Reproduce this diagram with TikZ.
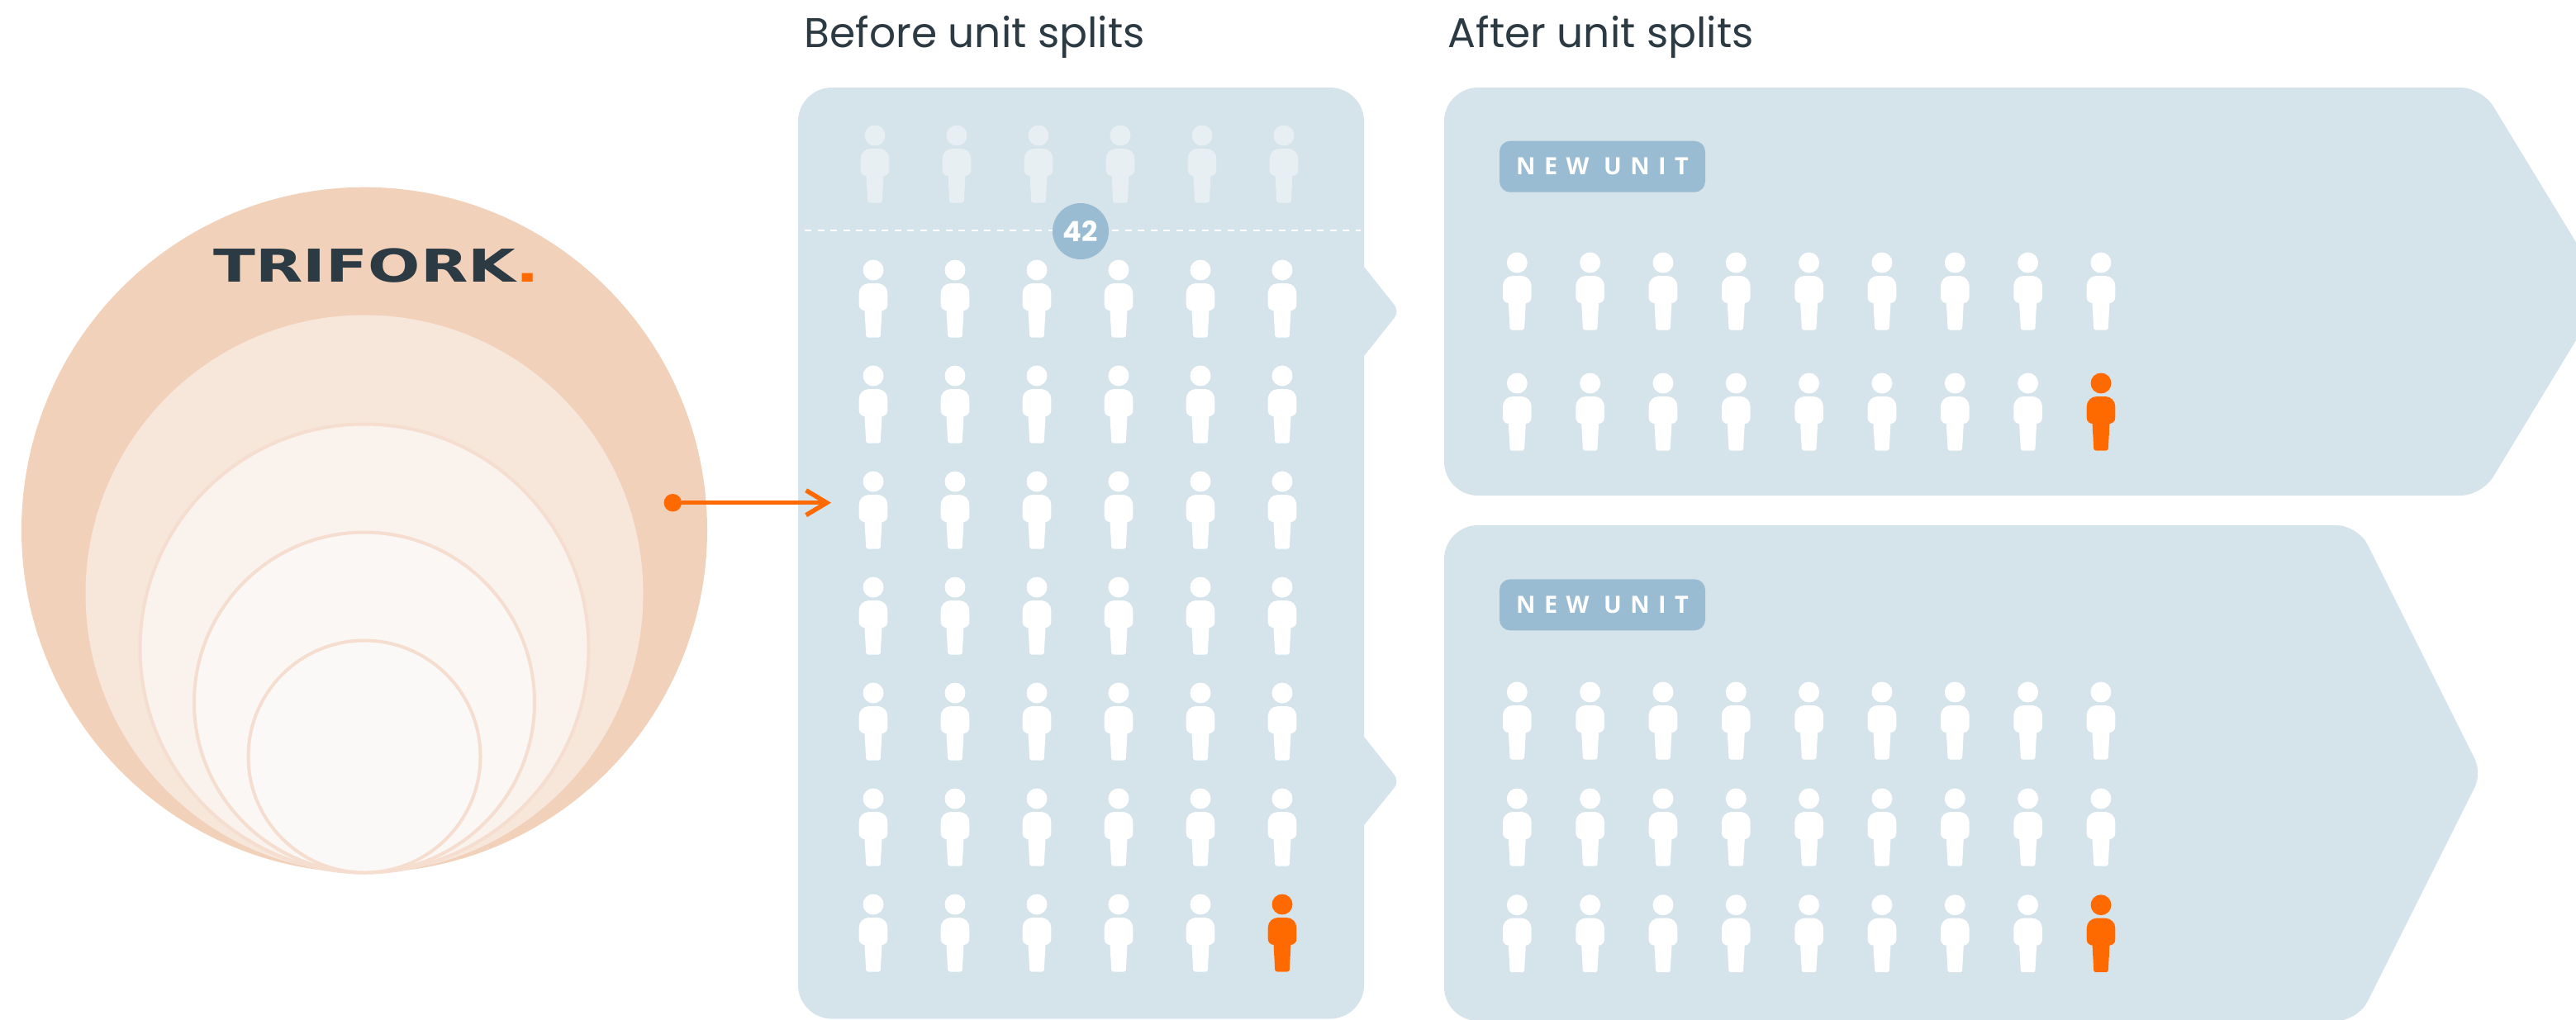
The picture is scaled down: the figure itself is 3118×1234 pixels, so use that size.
\documentclass[tikz,border=0pt]{standalone}
\usepackage{fontspec}
\setmainfont{Poppins}
\newfontfamily\tagfont[LetterSpace=36]{Open Sans}
\newfontfamily\logofont[FakeStretch=1.36]{DejaVu Sans}
\usetikzlibrary{arrows.meta,positioning}
\definecolor{Panel}{HTML}{D5E3EA}
\definecolor{Tag}{HTML}{99BCD2}
\definecolor{Ink}{HTML}{2C3A43}
\definecolor{Accent}{HTML}{FF6A00}
\definecolor{Faded}{HTML}{E7EFF3}
\definecolor{RingA}{HTML}{F2D1BA}
\definecolor{RingB}{HTML}{F7E6DA}
\definecolor{RingC}{HTML}{FAF2EC}
\definecolor{RingD}{HTML}{FBF7F4}
\definecolor{RingE}{HTML}{FBF9F7}
\definecolor{RingLine}{HTML}{F5DECF}
\tikzset{
 person/.pic={
  \fill[pic actions] (0,0) circle (12.5);
  \fill[pic actions] (-17.3,35) [rounded corners=1.2mm] -- (-17.3,16) -- (17.3,16) [rounded corners=0.7mm] -- (17.3,49) -- (-17.3,49) -- cycle;
  \fill[pic actions,rounded corners=0.25mm] (-10.7,45) -- (10.7,45) -- (8.7,81.5) -- (-8.7,81.5) -- cycle;
 }
}
\begin{document}
\begin{tikzpicture}[
 x=0.1mm,y=-0.1mm,
 panel/.style={fill=Panel,rounded corners=4.1mm},
 ring/.style={draw=RingLine,line width=0.4mm},
 title/.style={anchor=base west,inner sep=0pt,text=Ink,font=\fontsize{14.3pt}{16pt}\selectfont},
 tagbox/.style={fill=Tag,rounded corners=1.3mm,minimum width=24.9mm,minimum height=6.2mm,inner sep=0pt,text=white,font=\tagfont\bfseries\fontsize{8.2pt}{10pt}\selectfont},
 a/.style={-{Straight Barb[length=2.5mm,width=3mm]},line width=0.55mm,draw=Accent}
]
\path[use as bounding box,clip] (0,0) rectangle (3118,1234);
% circles, all touching at the bottom
\fill[RingA] (441,641.7) circle (415);
\fill[RingB] (441,719) circle (337.5);
\filldraw[ring,fill=RingC] (441,785) circle (271.5);
\filldraw[ring,fill=RingD] (441,850.5) circle (206);
\filldraw[ring,fill=RingE] (441,916) circle (140.5);
\node[anchor=base west,inner sep=0pt,text=Ink,font=\logofont\bfseries\fontsize{15.6pt}{18pt}\selectfont] (logo) at (258,341.7) {TRIFORK\textcolor{Accent}{.}};
% panels
\fill[panel] (966,106) -- (1651,106) [sharp corners] -- (1651,323) [rounded corners=1mm] -- (1694,377) [sharp corners] -- (1651,431)
 -- (1651,892) [rounded corners=1mm] -- (1694,946) [sharp corners] -- (1651,999) [rounded corners=4.1mm] -- (1651,1233.5) -- (966,1233.5) -- cycle;
\fill[panel] (1748,106) [rounded corners=2.6mm] -- (3004,106) -- (3154,352.6) -- (3004,600) [rounded corners=4.1mm] -- (1748,600) -- cycle;
\fill[panel] (1748,636) [rounded corners=2.6mm] -- (2854,636) [rounded corners=1.9mm] -- (3004,936) [rounded corners=2.6mm] -- (2854,1236) [rounded corners=4.1mm] -- (1748,1236) -- cycle;
\node[title] (before) at (973,57) {Before unit splits};
\node[title] (after) at (1752,57) {After unit splits};
% people in the left panel
\foreach \c in {0,...,5} {
 \pic[fill=Faded] at ({1059+99*\c},164) {person};
 \foreach \r in {0,...,6} {
  \pic[fill=white] at ({1057+99*\c},{327+128*\r}) {person};
 }
}
\pic[fill=Accent] at (1552,1095) {person};
\draw[white,line width=0.2mm,dash pattern=on 0.8mm off 0.75mm] (974,279) -- (1647,279);
\node[circle,fill=Tag,minimum size=6.8mm,inner sep=0pt,text=white,font=\bfseries\fontsize{9.6pt}{10pt}\selectfont] (count) at (1308,280) {42};
% people in the right panels
\foreach \c in {0,...,8} {
 \foreach \y in {318,464,838,967,1095.7} {
  \pic[fill=white] at ({1836.3+88.33*\c},\y) {person};
 }
}
\pic[fill=Accent] at (2543,464) {person};
\pic[fill=Accent] at (2543,1095.7) {person};
\node[tagbox] (unitA) at (1939.5,201.7) {NEW UNIT};
\node[tagbox] (unitB) at (1939.5,732.3) {NEW UNIT};
% connector
\node[circle,fill=Accent,minimum size=2.15mm,inner sep=0pt,outer sep=0pt] (dot) at (814.3,608.7) {};
\coordinate (entry) at (1006,608.7);
\draw[a] (dot) -- (entry);
\end{tikzpicture}
\end{document}
